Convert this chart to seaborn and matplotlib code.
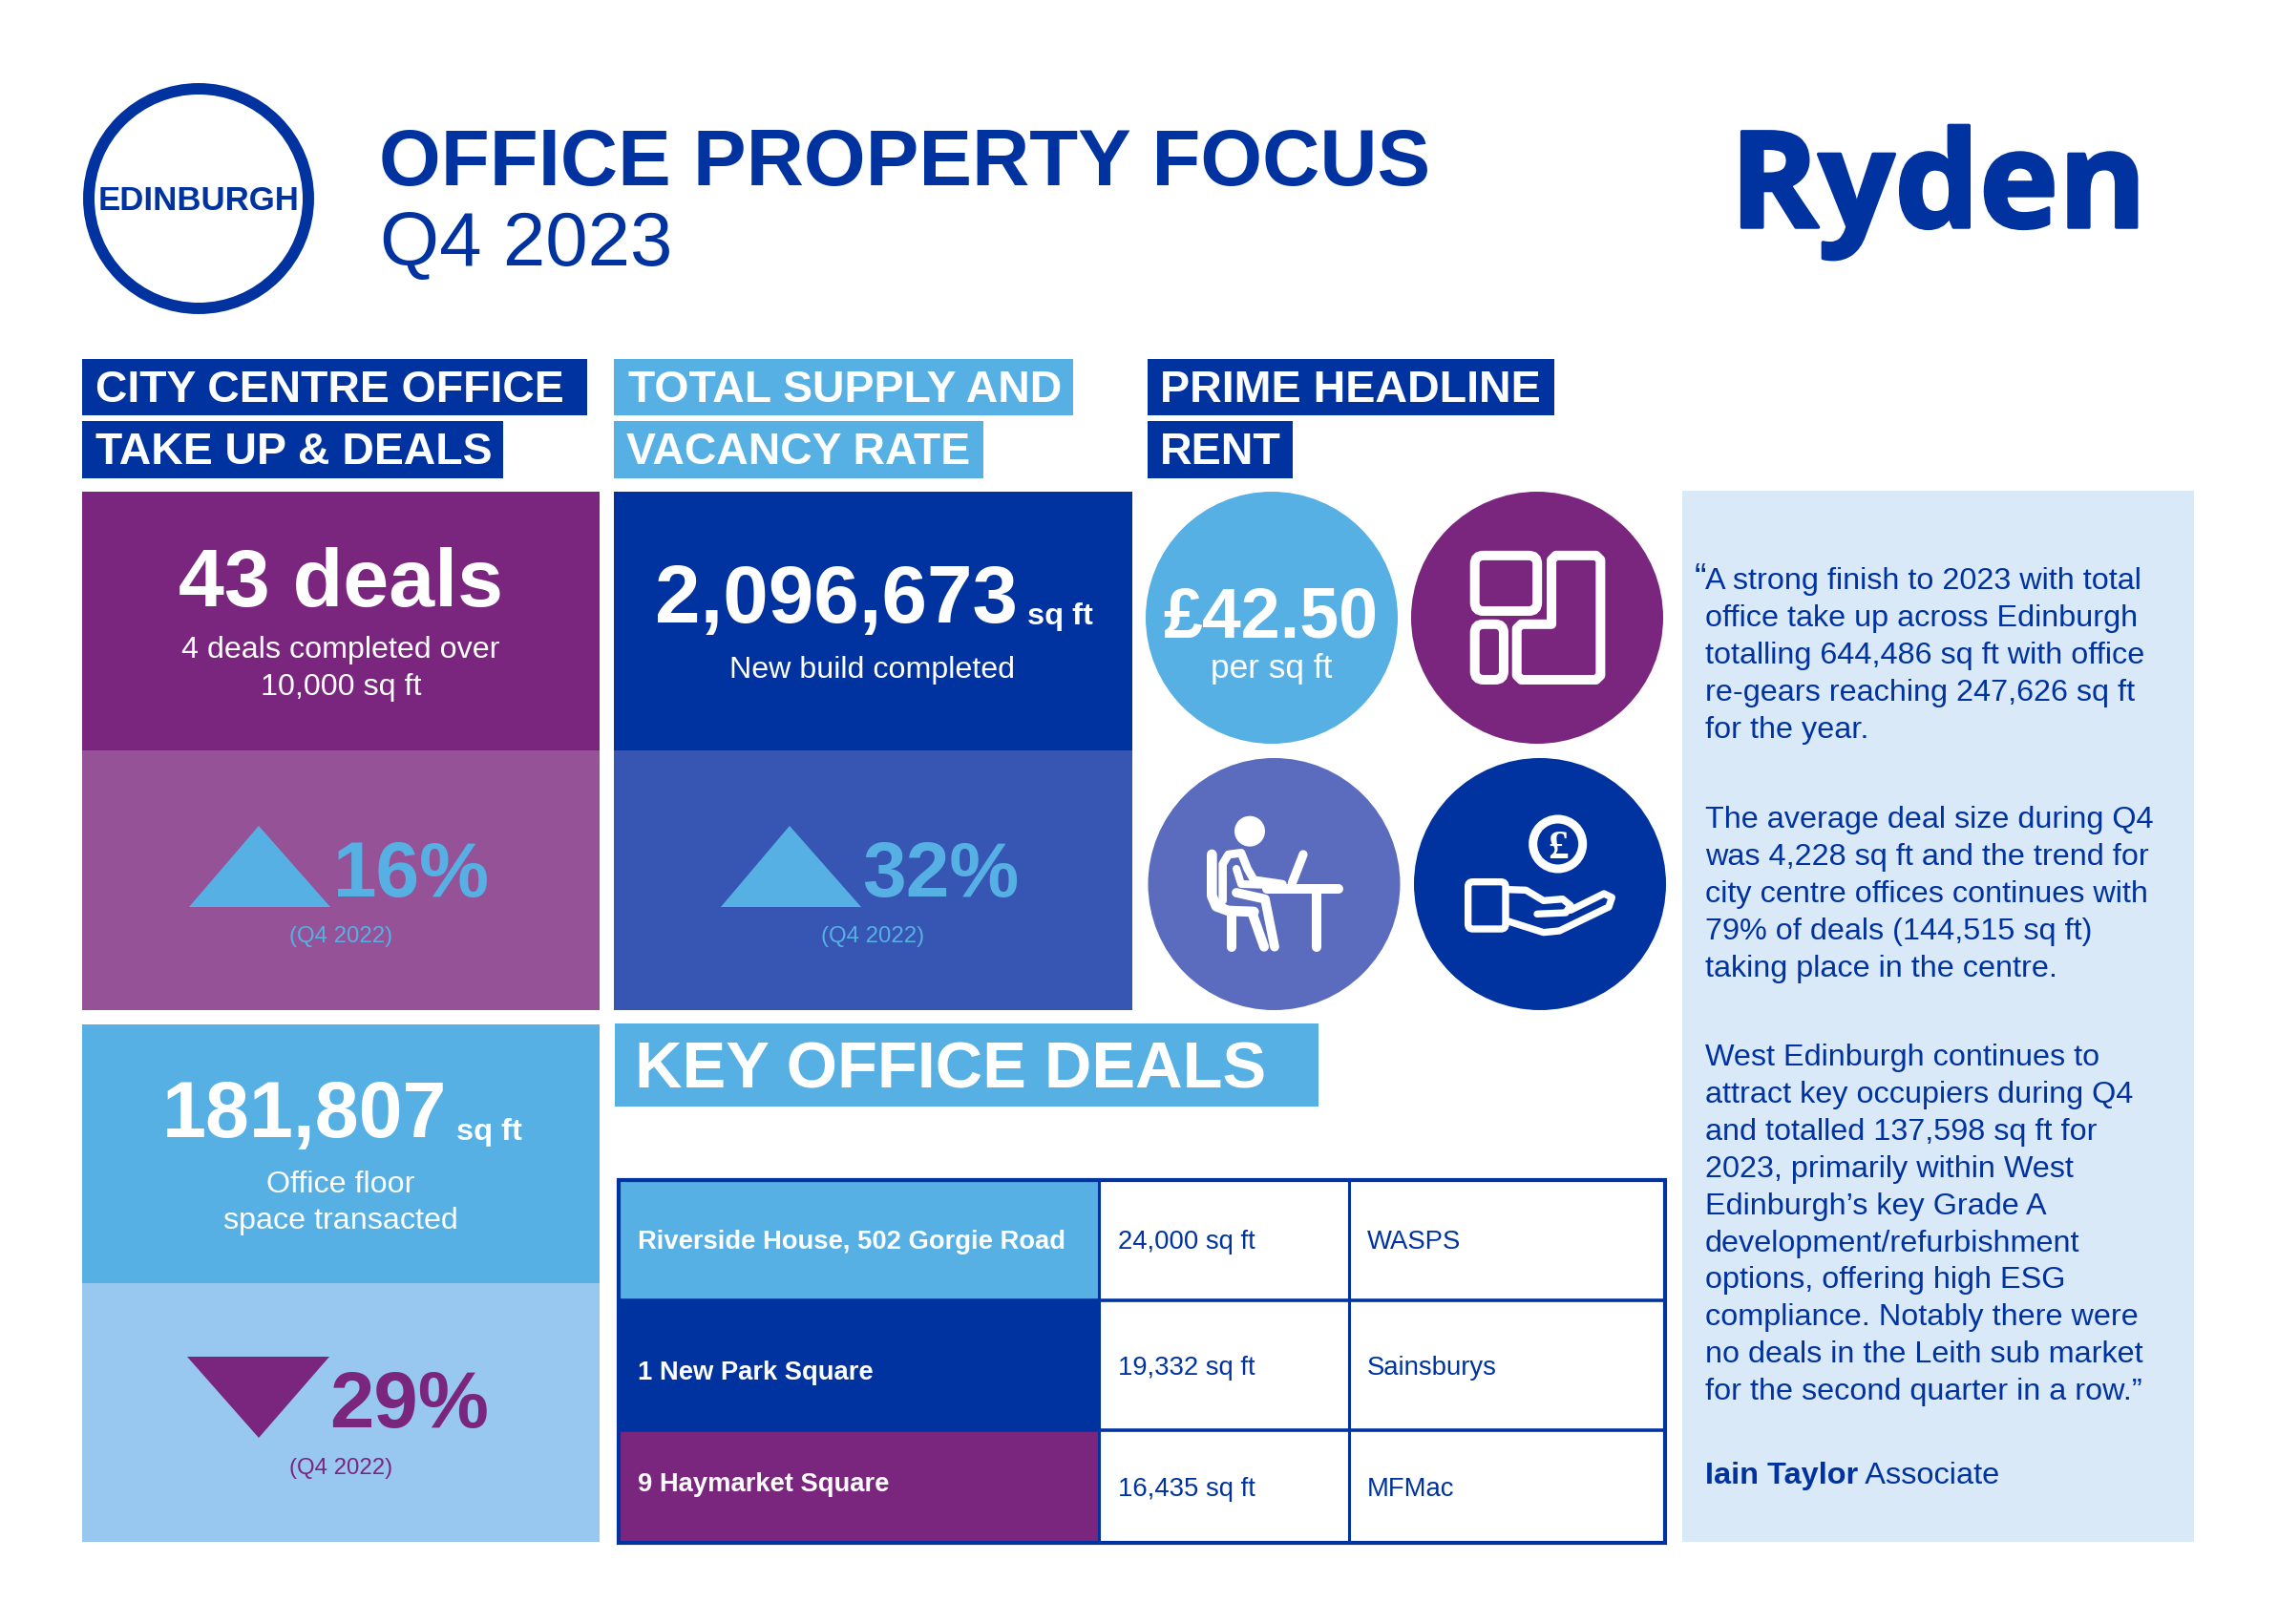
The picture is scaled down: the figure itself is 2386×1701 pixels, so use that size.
import matplotlib

matplotlib.use('Agg')

import matplotlib.patheffects as pe
import matplotlib.pyplot as plt
import seaborn as sns
from matplotlib.patches import Circle, FancyBboxPatch, PathPatch, Polygon, Rectangle
from matplotlib.path import Path

TITLE = 'OFFICE PROPERTY FOCUS'
PERIOD = 'Q4 2023'
CITY = 'EDINBURGH'
LOGO = 'Ryden'

HEADER_TAKEUP = ['CITY CENTRE OFFICE', 'TAKE UP & DEALS']
HEADER_SUPPLY = ['TOTAL SUPPLY AND', 'VACANCY RATE']
HEADER_RENT = ['PRIME HEADLINE', 'RENT']
HEADER_DEALS = 'KEY OFFICE DEALS'

DEALS_VALUE = '43 deals'
DEALS_NOTE = ['4 deals completed over', '10,000 sq ft']
DEALS_CHANGE = '16%'
SUPPLY_VALUE = '2,096,673'
SUPPLY_NOTE = 'New build completed'
SUPPLY_CHANGE = '32%'
SPACE_VALUE = '181,807'
SPACE_NOTE = ['Office floor', 'space transacted']
SPACE_CHANGE = '29%'
COMPARE = '(Q4 2022)'
UNIT = 'sq ft'
RENT_VALUE = '£42.50'
RENT_UNIT = 'per sq ft'

DEAL_NAMES = ['Riverside House, 502 Gorgie Road', '1 New Park Square', '9 Haymarket Square']
DEAL_SIZES = ['24,000 sq ft', '19,332 sq ft', '16,435 sq ft']
DEAL_TENANTS = ['WASPS', 'Sainsburys', 'MFMac']

QUOTE_1 = ['A strong finish to 2023 with total', 'office take up across Edinburgh',
           'totalling 644,486 sq ft with office', 're-gears reaching 247,626 sq ft',
           'for the year.']
QUOTE_2 = ['The average deal size during Q4', 'was 4,228 sq ft and the trend for',
           'city centre offices continues with', '79% of deals (144,515 sq ft)',
           'taking place in the centre.']
QUOTE_3 = ['West Edinburgh continues to', 'attract key occupiers during Q4',
           'and totalled 137,598 sq ft for', '2023, primarily within West',
           'Edinburgh\u2019s key Grade A', 'development/refurbishment',
           'options, offering high ESG', 'compliance. Notably there were',
           'no deals in the Leith sub market', 'for the second quarter in a row.\u201d']
AUTHOR = 'Iain Taylor'
AUTHOR_ROLE = ' Associate'

NAVY = '#0033a0'
PURPLE = '#7a267f'
PURPLE_LIGHT = '#965297'
NAVY_LIGHT = '#3756b3'
BLUE = '#56b0e4'
BLUE_LIGHT = '#98c8ef'
PALE = '#dae9f8'
PERI = '#5b6bbd'

sns.set_theme(style='white')
plt.rcParams['font.family'] = ['Liberation Sans', 'DejaVu Sans']

fig = plt.figure(figsize=(23.86, 17.01), dpi=100)
ax = fig.add_axes([0, 0, 1, 1])
ax.set_xlim(0, 2386)
ax.set_ylim(1701, 0)
ax.axis('off')


def box(x0, y0, x1, y1, color):
    ax.add_patch(Rectangle((x0, y0), x1 - x0, y1 - y0, fc=color, ec='none', zorder=1))


def label(x, y, s, size, color='white', weight='normal', ha='left', family=None):
    kw = {'family': family} if family else {}
    return ax.text(x, y, s, fontsize=size, color=color, fontweight=weight, ha=ha,
                   va='baseline', zorder=5, **kw)


def stroke(points, lw=7.2, closed=False):
    codes = [Path.MOVETO] + [Path.LINETO] * (len(points) - 1)
    points = list(points)
    if closed:
        points.append(points[0])
        codes.append(Path.CLOSEPOLY)
    ax.add_patch(PathPatch(Path(points, codes), fc='none', ec='white', lw=lw,
                           capstyle='round', joinstyle='round', zorder=4))


def plan_xy(x, y):
    return 1180 + x / 2.613, 490 + y / 2.613


def desk_xy(x, y):
    return 1250 + x / 3, 840 + y / 3


def hand_xy(x, y):
    return 1520 + x / 3, 850 + y / 3


def round_box(xy, x0, y0, x1, y1, lw=7.2, radius=8):
    ax0, ay0 = xy(x0, y0)
    ax1, ay1 = xy(x1, y1)
    ax.add_patch(FancyBboxPatch((ax0, ay0), ax1 - ax0, ay1 - ay0,
                                boxstyle='round,pad=0,rounding_size={}'.format(radius),
                                fc='none', ec='white', lw=lw, zorder=4))


# masthead
ax.add_patch(Circle((208, 208), 115, fc='white', ec=NAVY, lw=8.6, zorder=2))
label(208, 220, CITY, 25, NAVY, 'bold', ha='center')
label(397, 194, TITLE, 60, NAVY, 'bold')
label(398, 278, PERIOD, 57.5, NAVY)
logo = label(1812, 238, LOGO, 101, NAVY, 'bold', family='Open Sans')
logo.set_path_effects([pe.withStroke(linewidth=2.5, foreground=NAVY)])

# section headers
box(86, 376, 615, 435, NAVY)
box(86, 441, 527, 501, NAVY)
label(100, 421, HEADER_TAKEUP[0], 33.4, weight='bold')
label(100, 486, HEADER_TAKEUP[1], 33.4, weight='bold')
box(643, 376, 1124, 435, BLUE)
box(643, 441, 1030, 501, BLUE)
label(658, 421, HEADER_SUPPLY[0], 33.4, weight='bold')
label(656, 486, HEADER_SUPPLY[1], 33.4, weight='bold')
box(1202, 376, 1628, 435, NAVY)
box(1202, 441, 1354, 501, NAVY)
label(1215, 421, HEADER_RENT[0], 33.6, weight='bold')
label(1215, 486, HEADER_RENT[1], 33.6, weight='bold')

# take up panel
box(86, 515, 628, 786, PURPLE)
box(86, 786, 628, 1058, PURPLE_LIGHT)
label(357, 635, DEALS_VALUE, 62, weight='bold', ha='center')
label(357, 689, DEALS_NOTE[0], 23.2, ha='center')
label(357, 728, DEALS_NOTE[1], 23.2, ha='center')
ax.add_patch(Polygon([(198, 950), (271, 865), (346, 950)], fc=BLUE, ec='none', zorder=3))
label(349, 939, DEALS_CHANGE, 59, BLUE, 'bold')
label(357, 987, COMPARE, 17.3, BLUE, ha='center')

# supply panel
box(643, 515, 1186, 786, NAVY)
box(643, 786, 1186, 1058, NAVY_LIGHT)
label(686, 652, SUPPLY_VALUE, 61.5, weight='bold')
label(1076, 654, UNIT, 23.4, weight='bold')
label(914, 710, SUPPLY_NOTE, 23.2, ha='center')
ax.add_patch(Polygon([(755, 950), (827, 865), (902, 950)], fc=BLUE, ec='none', zorder=3))
label(903, 939, SUPPLY_CHANGE, 59, BLUE, 'bold')
label(914, 987, COMPARE, 17.3, BLUE, ha='center')

# floor space panel
box(86, 1073, 628, 1344, BLUE)
box(86, 1344, 628, 1615, BLUE_LIGHT)
label(170, 1191, SPACE_VALUE, 59.5, weight='bold')
label(478, 1194, UNIT, 23.4, weight='bold')
label(357, 1249, SPACE_NOTE[0], 23.2, ha='center')
label(357, 1287, SPACE_NOTE[1], 23.2, ha='center')
ax.add_patch(Polygon([(196, 1421), (345, 1421), (271, 1506)], fc=PURPLE, ec='none', zorder=3))
label(345, 1495, SPACE_CHANGE, 60, PURPLE, 'bold')
label(357, 1544, COMPARE, 17.3, PURPLE, ha='center')

# icon circles
ax.add_patch(Circle((1332, 647), 132, fc=BLUE, ec='none', zorder=2))
ax.add_patch(Circle((1610, 647), 132, fc=PURPLE, ec='none', zorder=2))
ax.add_patch(Circle((1334.5, 926), 132, fc=PERI, ec='none', zorder=2))
ax.add_patch(Circle((1613, 926), 132, fc=NAVY, ec='none', zorder=2))
label(1331, 667, RENT_VALUE, 53, weight='bold', ha='center')
label(1332, 710, RENT_UNIT, 25.4, ha='center')

# floor plan icon
round_box(plan_xy, 953, 240, 1124, 392, radius=9)
round_box(plan_xy, 953, 428, 1032, 580, radius=9)
stroke([plan_xy(*p) for p in [(1163, 252), (1175, 240), (1285, 240), (1297, 252), (1297, 568),
                              (1285, 580), (1080, 580), (1068, 568), (1068, 440),
                              (1080, 428), (1163, 428)]], closed=True)

# desk icon
ax.add_patch(Circle(desk_xy(177, 92), 16, fc='white', ec='none', zorder=4))
stroke([desk_xy(*p) for p in [(58, 165), (58, 295), (72, 328), (110, 342), (190, 345)]], lw=7.7)
stroke([desk_xy(*p) for p in [(92, 310), (92, 195), (110, 165), (150, 160), (170, 210),
                              (190, 245), (280, 258)]], lw=6.2)
stroke([desk_xy(*p) for p in [(135, 210), (150, 258), (280, 262)]], lw=5.8)
stroke([desk_xy(*p) for p in [(135, 285), (225, 305), (255, 455)]], lw=7)
stroke([desk_xy(*p) for p in [(120, 345), (120, 455)]], lw=7.2)
stroke([desk_xy(*p) for p in [(185, 350), (222, 455)]], lw=7.2)
stroke([desk_xy(*p) for p in [(345, 165), (310, 255)]], lw=6.7)
stroke([desk_xy(*p) for p in [(230, 272), (455, 272)]], lw=7.2)
stroke([desk_xy(*p) for p in [(387, 280), (387, 455)]], lw=7.2)

# hand and coin icon
ax.add_patch(Circle(hand_xy(335, 102), 26, fc='none', ec='white', lw=6.5, zorder=4))
label(hand_xy(335, 0)[0], hand_xy(0, 148)[1], '£', 31, weight='bold', ha='center',
      family='Liberation Serif')
round_box(hand_xy, 53, 221, 171, 369, lw=5.3, radius=5)
stroke([hand_xy(*p) for p in [(175, 245), (235, 247), (290, 280), (350, 275), (375, 295),
                              (360, 318), (270, 322)]], lw=5.3)
stroke([hand_xy(*p) for p in [(180, 345), (290, 380), (340, 375), (495, 300), (505, 270),
                              (480, 258), (375, 310)]], lw=5.3)

# key deals
box(644, 1072, 1381, 1159, BLUE)
label(665, 1139, HEADER_DEALS, 49.3, weight='bold')

row_edges = [1234, 1362, 1498, 1617]
name_base = [1308, 1445, 1562]
cell_base = [1308, 1440, 1567]
for i, color in enumerate([BLUE, NAVY, PURPLE]):
    box(648, row_edges[i], 1151, row_edges[i + 1], color)
    label(668, name_base[i], DEAL_NAMES[i], 19.7, weight='bold')
    label(1171, cell_base[i], DEAL_SIZES[i], 19.8, NAVY)
    label(1432, cell_base[i], DEAL_TENANTS[i], 19.8, NAVY)
for y in row_edges[1:3]:
    ax.plot([648, 1744], [y, y], color=NAVY, lw=2.6, solid_capstyle='butt', zorder=3)
for x in [1151, 1413]:
    ax.plot([x, x], [1234, 1617], color=NAVY, lw=2.2, solid_capstyle='butt', zorder=3)
ax.add_patch(Rectangle((648, 1236), 1096, 380, fc='none', ec=NAVY, lw=3, zorder=3))

# quote panel
box(1762, 514, 2298, 1615, PALE)
PITCH = 38.9
label(1775, 617, '\u201c', 27, NAVY)
for first, lines in [(617, QUOTE_1), (867, QUOTE_2), (1116, QUOTE_3)]:
    for i, line in enumerate(lines):
        label(1786, first + i * PITCH, line, 23.3, NAVY)
author = label(1786, 1554, AUTHOR, 23.4, NAVY, 'bold')
fig.canvas.draw()
author_box = author.get_window_extent()
label(1786 + author_box.width, 1554, AUTHOR_ROLE, 23.4, NAVY)

sns.despine(ax=ax, left=True, bottom=True)
fig.savefig('out.png', dpi=100, facecolor='white')
